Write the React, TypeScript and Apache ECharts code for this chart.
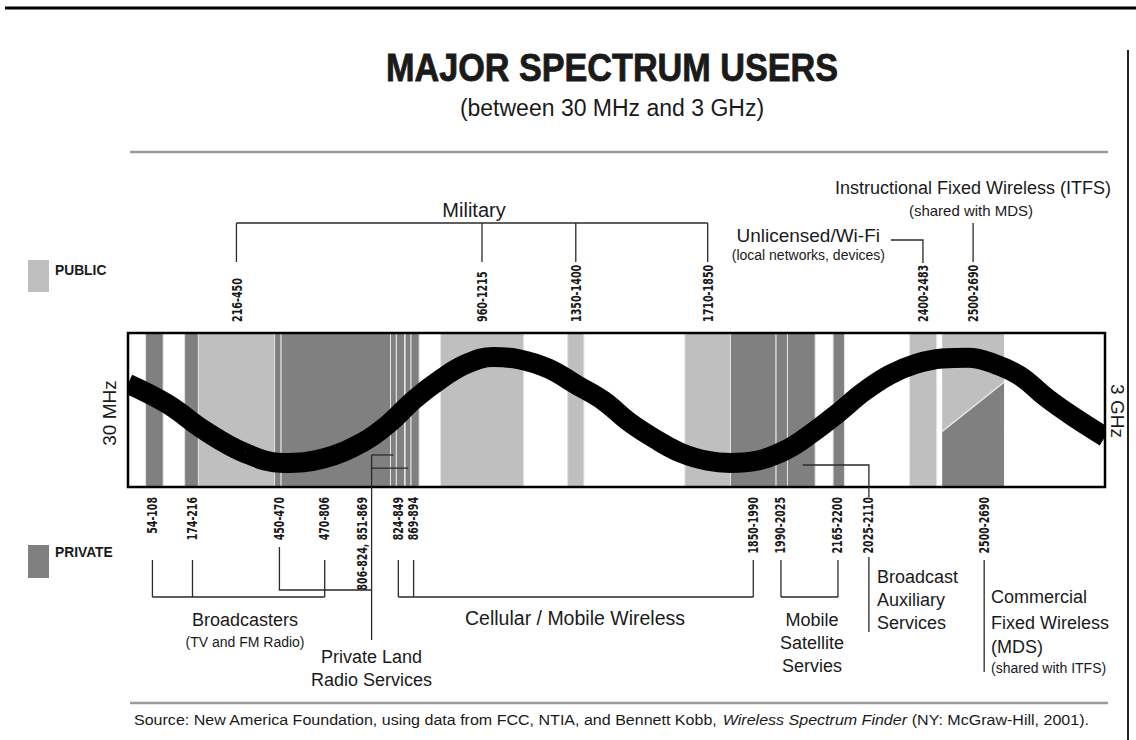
import React, { useEffect, useRef } from "react";
import * as echarts from "echarts";

// ---------- data ----------
const publicBands: [number, number][] = [
  [216, 450], [960, 1215], [1350, 1400], [1710, 1850], [2400, 2483],
];
const privateBands: [number, number][] = [
  [54, 108], [174, 216], [450, 470], [470, 806], [806, 824], [824, 849],
  [851, 869], [869, 894], [1850, 1990], [1990, 2025], [2025, 2110], [2165, 2200],
];
// ITFS (public, upper part) shared with MDS (private, lower part)
const sharedBand: [number, number] = [2500, 2690];
const sharedSplit: [number, number] = [36, 68]; // % of height at band start / end

// black wave (MHz, % of box height)
const waveMHz = [0, 120, 240, 360, 477, 600, 720, 800, 880, 960, 1040, 1122, 1200, 1290, 1380, 1460, 1540, 1620, 1700, 1780, 1850, 1930, 2020, 2100, 2180, 2260, 2340, 2420, 2500, 2580, 2660, 2740, 2820, 2900, 3000];
const waveLevel = [67, 54, 36, 22, 15.6, 18.5, 29, 41, 57, 70, 80, 84.4, 83, 77, 66, 56, 42, 31, 22, 17, 15.6, 17, 24, 35, 48, 62, 73, 80, 83.5, 84, 80, 72, 58, 46, 32.5];

// tick labels: [text, MHz anchor]
const topLabels: [string, number][] = [
  ["216-450", 333], ["960-1215", 1087], ["1350-1400", 1375], ["1710-1850", 1780],
  ["2400-2483", 2441], ["2500-2690", 2595],
];
const bottomLabels: [string, number][] = [
  ["54-108", 75], ["174-216", 198], ["450-470", 465], ["470-806", 604],
  ["806-824, 851-869", 720], ["824-849", 830], ["869-894", 877],
  ["1850-1990", 1920], ["1990-2025", 2005], ["2165-2200", 2180],
  ["2025-2110", 2275], ["2500-2690", 2629],
];

const LIGHT = "#bfbfbf";
const DARK = "#808080";
const INK = "#1a1a1a";
const SANS = "'Liberation Sans', Arial, sans-serif";
const NARROW = "'Liberation Sans Narrow', 'DejaVu Sans Condensed', 'Liberation Sans', sans-serif";

export default function App() {
  const ref = useRef<HTMLDivElement>(null);

  useEffect(() => {
    const el = ref.current as HTMLDivElement;
    const chart = echarts.init(el, null, { renderer: "svg" });

    const bandItem = (color: string) => (params: any, api: any) => {
      const p0 = api.coord([api.value(0), 100]);
      const p1 = api.coord([api.value(1), 0]);
      return {
        type: "rect",
        shape: { x: p0[0], y: p0[1], width: p1[0] - p0[0], height: p1[1] - p0[1] },
        style: { fill: color, stroke: "#e4e4e4", lineWidth: 1 },
      };
    };

    chart.setOption({
      animation: false,
      grid: { left: 128, top: 333, width: 977, height: 154, show: false },
      xAxis: { type: "value", min: 0, max: 3000, show: false },
      yAxis: { type: "value", min: 0, max: 100, show: false },
      series: [
        { type: "custom", renderItem: bandItem(LIGHT), data: publicBands, z: 1 },
        { type: "custom", renderItem: bandItem(DARK), data: privateBands, z: 1 },
        {
          type: "custom",
          z: 1,
          data: [[sharedBand[0], sharedBand[1], sharedSplit[0], sharedSplit[1]]],
          renderItem: (params: any, api: any) => {
            const s = api.value(0), e = api.value(1), a = api.value(2), b = api.value(3);
            const c = (x: number, y: number) => api.coord([x, y]);
            return {
              type: "group",
              children: [
                { type: "polygon", shape: { points: [c(s, 100), c(e, 100), c(e, b), c(s, a)] }, style: { fill: LIGHT } },
                { type: "polygon", shape: { points: [c(s, a), c(e, b), c(e, 0), c(s, 0)] }, style: { fill: DARK } },
                {
                  type: "line",
                  shape: { x1: c(s, a)[0], y1: c(s, a)[1], x2: c(e, b)[0], y2: c(e, b)[1] },
                  style: { stroke: "#eeeeee", lineWidth: 1.2 },
                },
              ],
            };
          },
        },
        {
          type: "line",
          data: waveMHz.map((m, i) => [m, waveLevel[i]]),
          smooth: 0.4,
          symbol: "none",
          clip: true,
          z: 5,
          lineStyle: { color: "#000", width: 20, cap: "butt" },
        },
      ],
    });

    const P = (f: number, lvl: number) =>
      chart.convertToPixel({ gridIndex: 0 }, [f, lvl]) as number[];
    const X = (f: number) => P(f, 0)[0];
    const Y = (lvl: number) => P(0, lvl)[1];

    const Z = 100;
    const txt = (text: string, x: number, y: number, o: any = {}) => ({
      type: "text",
      x,
      y,
      rotation: o.rot || 0,
      scaleX: o.sx || 1,
      z: Z,
      style: {
        text,
        fontFamily: o.ff || SANS,
        fontSize: o.fs || 18,
        fontWeight: o.fw || "normal",
        fill: INK,
        stroke: o.stroke ? INK : undefined,
        lineWidth: o.stroke || 0,
        align: o.align || "center",
        verticalAlign: "middle",
      },
    });
    const ln = (x1: number, y1: number, x2: number, y2: number, w = 1.3, c = "#2a2a2a") => ({
      type: "line",
      z: Z,
      shape: { x1, y1, x2, y2 },
      style: { stroke: c, lineWidth: w },
    });
    const pl = (pts: number[][], w = 1.3, c = "#2a2a2a") => ({
      type: "polyline",
      z: Z,
      shape: { points: pts },
      style: { stroke: c, lineWidth: w, fill: null },
    });

    const g: any[] = [];
    const tl = P(0, 100), br = P(3000, 0);

    // mask the wave's stroke overflow on both sides of the box
    g.push({ type: "rect", z: 99, shape: { x: tl[0] - 8, y: tl[1] - 2, width: 8, height: br[1] - tl[1] + 4 }, style: { fill: "#fff" } });
    g.push({ type: "rect", z: 99, shape: { x: br[0], y: tl[1] - 2, width: 6, height: br[1] - tl[1] + 4 }, style: { fill: "#fff" } });

    // frame rules
    g.push(ln(5, 8, 1136, 8, 3, "#000"));
    g.push(ln(1128, 50, 1128, 740, 2, "#222"));
    g.push(ln(130, 152, 1108, 152, 2.5, "#9a9a9a"));
    g.push(ln(130, 703, 1108, 703, 2.5, "#9a9a9a"));

    // title
    g.push(txt("MAJOR SPECTRUM USERS", 612, 68, { fs: 38, fw: "bold", sx: 0.9, stroke: 0.8 }));
    g.push(txt("(between 30 MHz and 3 GHz)", 612, 108, { fs: 23 }));

    // legend
    g.push({ type: "rect", z: Z, shape: { x: 28, y: 260, width: 21, height: 32 }, style: { fill: LIGHT } });
    g.push(txt("PUBLIC", 55, 270, { fs: 15, fw: "bold", align: "left", sx: 0.92 }));
    g.push({ type: "rect", z: Z, shape: { x: 28, y: 545, width: 21, height: 33 }, style: { fill: DARK } });
    g.push(txt("PRIVATE", 55, 552, { fs: 15, fw: "bold", align: "left", sx: 0.92 }));

    // box frame
    g.push({
      type: "rect",
      z: Z,
      shape: { x: tl[0], y: tl[1], width: br[0] - tl[0], height: br[1] - tl[1] },
      style: { fill: null, stroke: "#000", lineWidth: 2.5 },
    });
    g.push(txt("30 MHz", 109, (tl[1] + br[1]) / 2 + 3, { fs: 19, rot: Math.PI / 2 }));
    g.push(txt("3 GHz", 1117, (tl[1] + br[1]) / 2 + 1, { fs: 19, rot: -Math.PI / 2 }));

    // rotated range labels
    topLabels.forEach(([t, f]) =>
      g.push(txt(t, X(f), 322, { fs: 14, fw: "bold", ff: NARROW, rot: Math.PI / 2, align: "left", sx: 0.76 }))
    );
    bottomLabels.forEach(([t, f]) =>
      g.push(txt(t, X(f), 497, { fs: 14, fw: "bold", ff: NARROW, rot: Math.PI / 2, align: "right", sx: 0.75 }))
    );

    // Military bracket
    const mil = [333, 1087, 1375, 1780];
    g.push(txt("Military", 474, 210, { fs: 20 }));
    g.push(ln(X(mil[0]), 223, X(mil[3]), 223));
    mil.forEach((f) => g.push(ln(X(f), 223, X(f), 262)));

    // Unlicensed / Wi-Fi
    g.push(txt("Unlicensed/Wi-Fi", 880, 235, { fs: 19, align: "right" }));
    g.push(txt("(local networks, devices)", 885, 255, { fs: 14, align: "right" }));
    g.push(pl([[891, 240], [X(2441), 240], [X(2441), 263]]));

    // ITFS
    g.push(txt("Instructional Fixed Wireless (ITFS)", 973, 188, { fs: 18 }));
    g.push(txt("(shared with MDS)", 971, 210, { fs: 15 }));
    g.push(ln(X(2595), 223, X(2595), 262));

    // Broadcasters
    g.push(ln(X(75), 560, X(75), 597));
    g.push(ln(X(198), 560, X(198), 597));
    g.push(ln(X(604), 560, X(604), 597));
    g.push(ln(X(75), 597, X(604), 597));
    g.push(txt("Broadcasters", 245, 620, { fs: 18 }));
    g.push(txt("(TV and FM Radio)", 245, 642, { fs: 14 }));

    // Private Land Radio Services
    const plx = X(748);
    g.push(pl([[X(465), 547], [X(465), 590], [plx, 590]]));
    g.push(ln(plx, Y(20.8), plx, 640));
    g.push(ln(plx, Y(20.8), X(815), Y(20.8)));
    g.push(ln(plx, Y(12.3), X(860), Y(12.3)));
    g.push(txt("Private Land", plx, 657, { fs: 18 }));
    g.push(txt("Radio Services", plx, 680, { fs: 18 }));

    // Cellular / Mobile Wireless
    g.push(ln(X(830), 560, X(830), 597));
    g.push(ln(X(877), 560, X(877), 597));
    g.push(ln(X(1920), 560, X(1920), 597));
    g.push(ln(X(830), 597, X(1920), 597));
    g.push(txt("Cellular / Mobile Wireless", 575, 618, { fs: 19.5 }));

    // Mobile Satellite
    g.push(ln(X(2005), 560, X(2005), 597));
    g.push(ln(X(2180), 560, X(2180), 597));
    g.push(ln(X(2005), 597, X(2180), 597));
    g.push(txt("Mobile", 812, 620, { fs: 18 }));
    g.push(txt("Satellite", 812, 643, { fs: 18 }));
    g.push(txt("Servies", 812, 666, { fs: 18 }));

    // Broadcast Auxiliary
    g.push(pl([[X(2072), Y(14.3)], [X(2275), Y(14.3)], [X(2275), 497]]));
    g.push(ln(X(2275), 557, X(2275), 632));
    g.push(txt("Broadcast", 877, 577, { fs: 18, align: "left" }));
    g.push(txt("Auxiliary", 877, 600, { fs: 18, align: "left" }));
    g.push(txt("Services", 877, 623, { fs: 18, align: "left" }));

    // Commercial Fixed Wireless
    g.push(ln(X(2629), 560, X(2629), 672));
    g.push(txt("Commercial", 991, 597, { fs: 18, align: "left" }));
    g.push(txt("Fixed Wireless", 991, 623, { fs: 18, align: "left" }));
    g.push(txt("(MDS)", 991, 647, { fs: 18, align: "left" }));
    g.push(txt("(shared with ITFS)", 991, 668, { fs: 14, align: "left" }));

    // source
    g.push({
      type: "text",
      x: 134,
      y: 720,
      z: Z,
      scaleX: 1.07,
      style: {
        text:
          "{a|Source: New America Foundation, using data from FCC, NTIA, and Bennett Kobb, }{i|Wireless Spectrum Finder}{a| (NY: McGraw-Hill, 2001).}",
        align: "left",
        verticalAlign: "middle",
        rich: {
          a: { fontFamily: SANS, fontSize: 15, fill: INK },
          i: { fontFamily: SANS, fontSize: 15, fontStyle: "italic", fill: INK },
        },
      },
    });

    chart.setOption({ graphic: { elements: g } });

    return () => chart.dispose();
  }, []);

  return (
    <div
      ref={ref}
      style={{ position: "fixed", left: 0, top: 0, width: 1136, height: 740, background: "#fff" }}
    />
  );
}
